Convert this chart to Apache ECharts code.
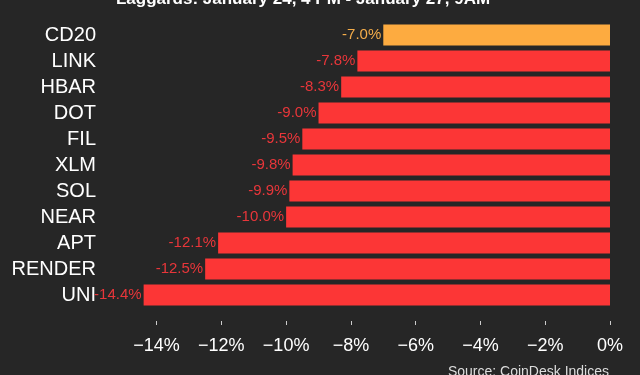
<!DOCTYPE html>
<html>
<head>
<meta charset="utf-8">
<script src="https://cdn.jsdelivr.net/npm/echarts@6/dist/echarts.min.js"></script>
<style>
 html, body { margin: 0; padding: 0; background: #262626; }
 #main { width: 640px; height: 375px; }
</style>
</head>
<body>
<div id="main"></div>
<script>
 // coins, top to bottom
 var coins = ['CD20', 'LINK', 'HBAR', 'DOT', 'FIL', 'XLM', 'SOL', 'NEAR', 'APT', 'RENDER', 'UNI'];
 var changes = [-7.0, -7.8, -8.3, -9.0, -9.5, -9.8, -9.9, -10.0, -12.1, -12.5, -14.4];
 var tickValues = [-14, -12, -10, -8, -6, -4, -2, 0];

 var myChart = echarts.init(document.getElementById('main'));

 var font = '"Liberation Sans", Arial, Helvetica, sans-serif';

 var options = {
	 backgroundColor: '#262626',
	 animation: false,
	 title: {
		 text: 'Laggards: January 24, 4 PM - January 27, 9AM',
		 left: 298,
		 textAlign: 'center',
		 top: -14,
		 textStyle: {
			 color: '#ffffff',
			 fontFamily: font,
			 fontWeight: 'bold',
			 fontSize: 17
		 }
	 },
	 graphic: [{
		 type: 'text',
		 right: 31,
		 top: 365,
		 style: {
			 text: 'Source: CoinDesk Indices',
			 fill: '#dddddd',
			 font: '14px ' + font
		 }
	 }],
	 grid: {
		 left: 108,
		 right: 30,
		 top: 22,
		 bottom: 67
	 },
	 xAxis: {
		 type: 'value',
		 min: -15.5,
		 max: 0,
		 offset: 13,
		 axisLine: { show: false },
		 splitLine: { show: false },
		 axisTick: {
			 show: true,
			 length: 4,
			 customValues: tickValues,
			 lineStyle: { color: '#cccccc' }
		 },
		 axisLabel: {
			 customValues: tickValues,
			 margin: 16,
			 color: '#ffffff',
			 fontFamily: font,
			 fontSize: 18,
			 formatter: function (v) {
				 return (v < 0 ? '\u2212' + Math.abs(v) : v) + '%';
			 }
		 }
	 },
	 yAxis: {
		 type: 'category',
		 data: coins,
		 inverse: true,
		 axisLine: { show: false },
		 axisTick: { show: false },
		 axisLabel: {
			 interval: 0,
			 margin: 12,
			 color: '#ffffff',
			 fontFamily: font,
			 fontSize: 20
		 }
	 },
	 series: [{
		 type: 'bar',
		 data: changes,
		 barWidth: 21,
		 clip: false,
		 itemStyle: {
			 color: function (p) {
				 return p.name === 'CD20' ? '#fdab40' : '#fc3636';
			 }
		 },
		 label: {
			 show: true,
			 position: 'left',
			 distance: 2,
			 fontFamily: font,
			 fontSize: 15,
			 formatter: function (p) {
				 return p.value.toFixed(1) + '%';
			 },
			 color: '#e8363a'
		 }
	 }]
 };

 // CD20 label is orange
 options.series[0].data = changes.map(function (v, i) {
	 return coins[i] === 'CD20' ? { value: v, label: { color: '#f5ad4a' } } : v;
 });

 myChart.setOption(options);
</script>
</body>
</html>
